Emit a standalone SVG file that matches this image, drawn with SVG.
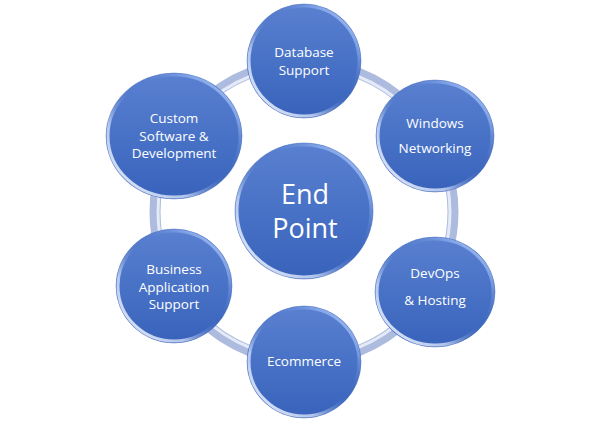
<svg xmlns="http://www.w3.org/2000/svg" width="600" height="425" viewBox="0 0 600 425">
<defs>
<linearGradient id="fillG" x1="0" y1="0" x2="0" y2="1">
<stop offset="0" stop-color="#5a80d0"/>
<stop offset="0.5" stop-color="#4872c6"/>
<stop offset="1" stop-color="#3962bb"/>
</linearGradient>
<linearGradient id="rimG" x1="0" y1="1" x2="1" y2="0">
<stop offset="0" stop-color="#ffffff" stop-opacity="0.95"/>
<stop offset="0.3" stop-color="#e0ebff" stop-opacity="0.7"/>
<stop offset="0.55" stop-color="#3a63bb" stop-opacity="0"/>
<stop offset="0.8" stop-color="#a8c6ff" stop-opacity="0.5"/>
<stop offset="1" stop-color="#d6e4ff" stop-opacity="0.9"/>
</linearGradient>
</defs>
<style>
.node{fill:url(#fillG);}
.rim{fill:none;stroke:url(#rimG);stroke-width:3;}
.edge{fill:none;stroke:#4a6fbe;stroke-width:1;stroke-opacity:0.5;}
.t{font-family:"Open Sans","Liberation Sans",sans-serif;font-size:13.5px;fill:#ffffff;text-anchor:middle;}
.big{font-family:"Open Sans","Liberation Sans",sans-serif;font-size:27px;fill:#ffffff;text-anchor:middle;}
</style>
<rect width="600" height="425" fill="#ffffff"/>
<g id="connectors">
<circle cx="304" cy="212" r="149" fill="none" stroke="#adbbde" stroke-width="11"/>
<circle cx="304" cy="212" r="146" fill="none" stroke="#eaf0fb" stroke-width="3" stroke-opacity="0.9"/>
</g>
<g id="node-database">
<circle class="node" cx="304" cy="61" r="57"/>
<circle class="edge" cx="304" cy="61" r="57"/>
<circle class="rim" cx="304" cy="61" r="55"/>
<text class="t" x="304" y="57">Database</text>
<text class="t" x="304" y="75">Support</text>
</g>
<g id="node-windows">
<ellipse class="node" cx="435" cy="136" rx="59" ry="56"/>
<ellipse class="edge" cx="435" cy="136" rx="59" ry="56"/>
<ellipse class="rim" cx="435" cy="136" rx="57" ry="54"/>
<text class="t" x="435" y="128">Windows</text>
<text class="t" x="435" y="153">Networking</text>
</g>
<g id="node-devops">
<ellipse class="node" cx="435" cy="292" rx="60" ry="55"/>
<ellipse class="edge" cx="435" cy="292" rx="60" ry="55"/>
<ellipse class="rim" cx="435" cy="292" rx="58" ry="53"/>
<text class="t" x="435" y="278">DevOps</text>
<text class="t" x="435" y="305">&amp; Hosting</text>
</g>
<g id="node-ecommerce">
<ellipse class="node" cx="304" cy="362" rx="57" ry="56"/>
<ellipse class="edge" cx="304" cy="362" rx="57" ry="56"/>
<ellipse class="rim" cx="304" cy="362" rx="55" ry="54"/>
<text class="t" x="304" y="366">Ecommerce</text>
</g>
<g id="node-business">
<ellipse class="node" cx="174" cy="286" rx="58" ry="57"/>
<ellipse class="edge" cx="174" cy="286" rx="58" ry="57"/>
<ellipse class="rim" cx="174" cy="286" rx="56" ry="55"/>
<text class="t" x="174" y="274">Business</text>
<text class="t" x="174" y="292">Application</text>
<text class="t" x="174" y="309">Support</text>
</g>
<g id="node-custom">
<ellipse class="node" cx="174" cy="136" rx="68" ry="63"/>
<ellipse class="edge" cx="174" cy="136" rx="68" ry="63"/>
<ellipse class="rim" cx="174" cy="136" rx="66" ry="61"/>
<text class="t" x="174" y="123">Custom</text>
<text class="t" x="174" y="141">Software &amp;</text>
<text class="t" x="174" y="158">Development</text>
</g>
<g id="node-endpoint">
<ellipse class="node" cx="304" cy="211" rx="69" ry="68"/>
<ellipse class="edge" cx="304" cy="211" rx="69" ry="68"/>
<ellipse class="rim" cx="304" cy="211" rx="67" ry="66"/>
<text class="big" x="305" y="204">End</text>
<text class="big" x="305" y="238">Point</text>
</g>
</svg>
